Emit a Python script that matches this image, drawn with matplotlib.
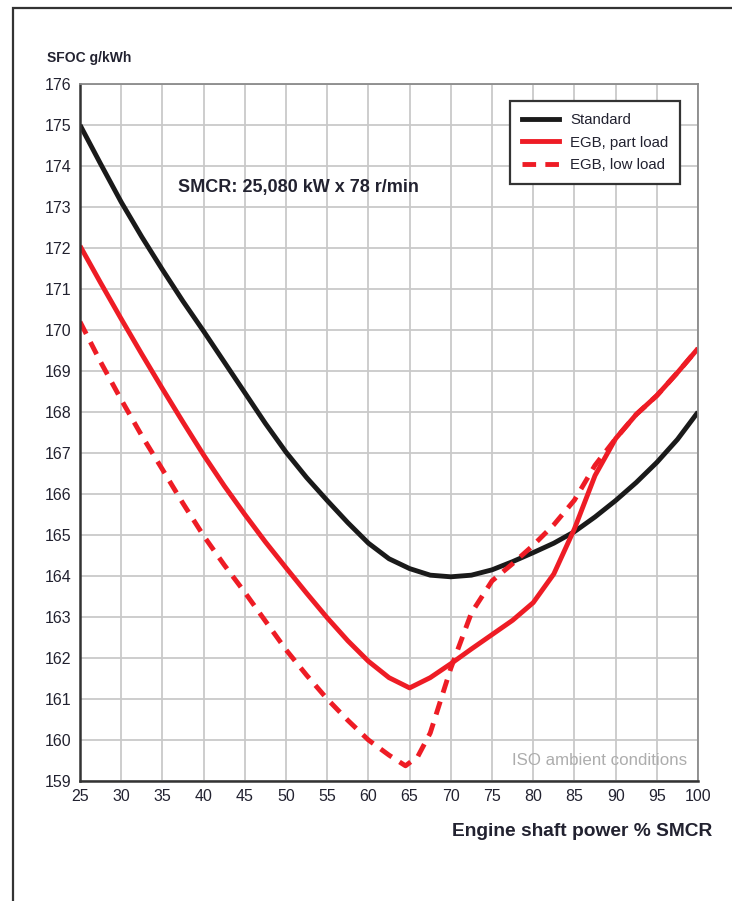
import matplotlib.pyplot as plt
from matplotlib.patches import Rectangle
from matplotlib.lines import Line2D

plt.rcParams['font.family'] = ['Liberation Sans', 'DejaVu Sans']

# SFOC curves, g/kWh against engine load in % SMCR
load = [25, 27.5, 30, 32.5, 35, 37.5, 40, 42.5, 45, 47.5, 50, 52.5, 55, 57.5, 60, 62.5,
        65, 67.5, 70, 72.5, 75, 77.5, 80, 82.5, 85, 87.5, 90, 92.5, 95, 97.5, 100]
sfoc_std = [175.0, 174.05, 173.12, 172.27, 171.47, 170.7, 169.97, 169.22, 168.47, 167.72,
            167.02, 166.4, 165.84, 165.3, 164.8, 164.42, 164.18, 164.02, 163.98, 164.02,
            164.15, 164.35, 164.57, 164.8, 165.08, 165.44, 165.84, 166.28, 166.77, 167.33,
            168.0]
sfoc_part = [172.05, 171.15, 170.27, 169.41, 168.57, 167.75, 166.95, 166.2, 165.5, 164.83,
             164.2, 163.58, 162.98, 162.42, 161.92, 161.52, 161.27, 161.52, 161.86, 162.22,
             162.57, 162.92, 163.35, 164.05, 165.15, 166.45, 167.35, 167.94, 168.4, 168.96,
             169.55]

load_low = [25, 27.5, 30, 32.5, 35, 37.5, 40, 42.5, 45, 47.5, 50, 52.5, 55, 57.5, 60, 62.5,
            64.5, 66, 67.5, 70, 72.5, 75, 77.5, 80, 82.5, 85, 87.5, 90, 92.5, 95, 97.5, 100]
sfoc_low = [170.2, 169.22, 168.3, 167.42, 166.6, 165.77, 164.98, 164.27, 163.6, 162.9,
            162.2, 161.58, 161.0, 160.48, 160.0, 159.63, 159.37, 159.6, 160.17, 161.75,
            163.1, 163.88, 164.3, 164.75, 165.25, 165.85, 166.7, 167.35, 167.94, 168.4,
            168.96, 169.55]

x_ticks = list(range(25, 101, 5))
y_ticks = list(range(159, 177))

txt = '#222230'
red = '#ee1c25'
lw = 3.5

fig = plt.figure(figsize=(7.32, 9.01), dpi=100)
ax = fig.add_axes([0.1093, 0.1332, 0.8443, 0.7736])

# page frame, only its left and top edges fall on the page
fig.patches.append(Rectangle((13 / 732, -0.2), 1.2, 1.2 - 8 / 901,
                             transform=fig.transFigure, fill=False,
                             edgecolor='#333333', linewidth=1.6))

ax.plot(load, sfoc_std, color='#1a1a1a', lw=lw, solid_capstyle='butt',
        solid_joinstyle='round')
ax.plot(load, sfoc_part, color=red, lw=lw, solid_capstyle='butt',
        solid_joinstyle='round')
ax.plot(load_low, sfoc_low, color=red, lw=lw, dashes=(2.8, 1.9),
        dash_joinstyle='round')

ax.set_xlim(25, 100)
ax.set_ylim(159, 176)
ax.set_xticks(x_ticks)
ax.set_yticks(y_ticks)
ax.tick_params(length=0, labelsize=11.5, labelcolor=txt, pad=6)
ax.grid(True, color='#c9c9c9', lw=1.3)
ax.set_axisbelow(True)
for s in ['top', 'right']:
    ax.spines[s].set_color('#8a8a8a')
    ax.spines[s].set_linewidth(1.3)
for s in ['left', 'bottom']:
    ax.spines[s].set_color('#333333')
    ax.spines[s].set_linewidth(1.8)

fig.text(47 / 732, 1 - 58 / 901, 'SFOC g/kWh', fontsize=10, fontweight='bold',
         color=txt, va='center')
fig.text(712 / 732, 1 - 832 / 901, 'Engine shaft power % SMCR', fontsize=13.8,
         fontweight='bold', color=txt, ha='right', va='center')
ax.text(36.9, 173.47, 'SMCR: 25,080 kW x 78 r/min', fontsize=13, fontweight='bold',
        color=txt, va='center')
ax.text(98.7, 159.49, 'ISO ambient conditions', fontsize=12.2, color='#adadad',
        ha='right', va='center')

handles = [Line2D([], [], color='#1a1a1a', lw=lw),
           Line2D([], [], color=red, lw=lw),
           Line2D([], [], color=red, lw=lw, dashes=(2.8, 1.9))]
leg = ax.legend(handles, ['Standard', 'EGB, part load', 'EGB, low load'],
                loc='upper right', bbox_to_anchor=(0.971, 0.9756), fontsize=10.8,
                frameon=True, fancybox=False, handlelength=2.5, handletextpad=0.7,
                borderpad=0.8, labelspacing=0.58, borderaxespad=0)
leg.get_frame().set_edgecolor('#333333')
leg.get_frame().set_linewidth(1.6)
leg.get_frame().set_alpha(1)
for t in leg.get_texts():
    t.set_color(txt)

plt.savefig('out.png', dpi=100)
